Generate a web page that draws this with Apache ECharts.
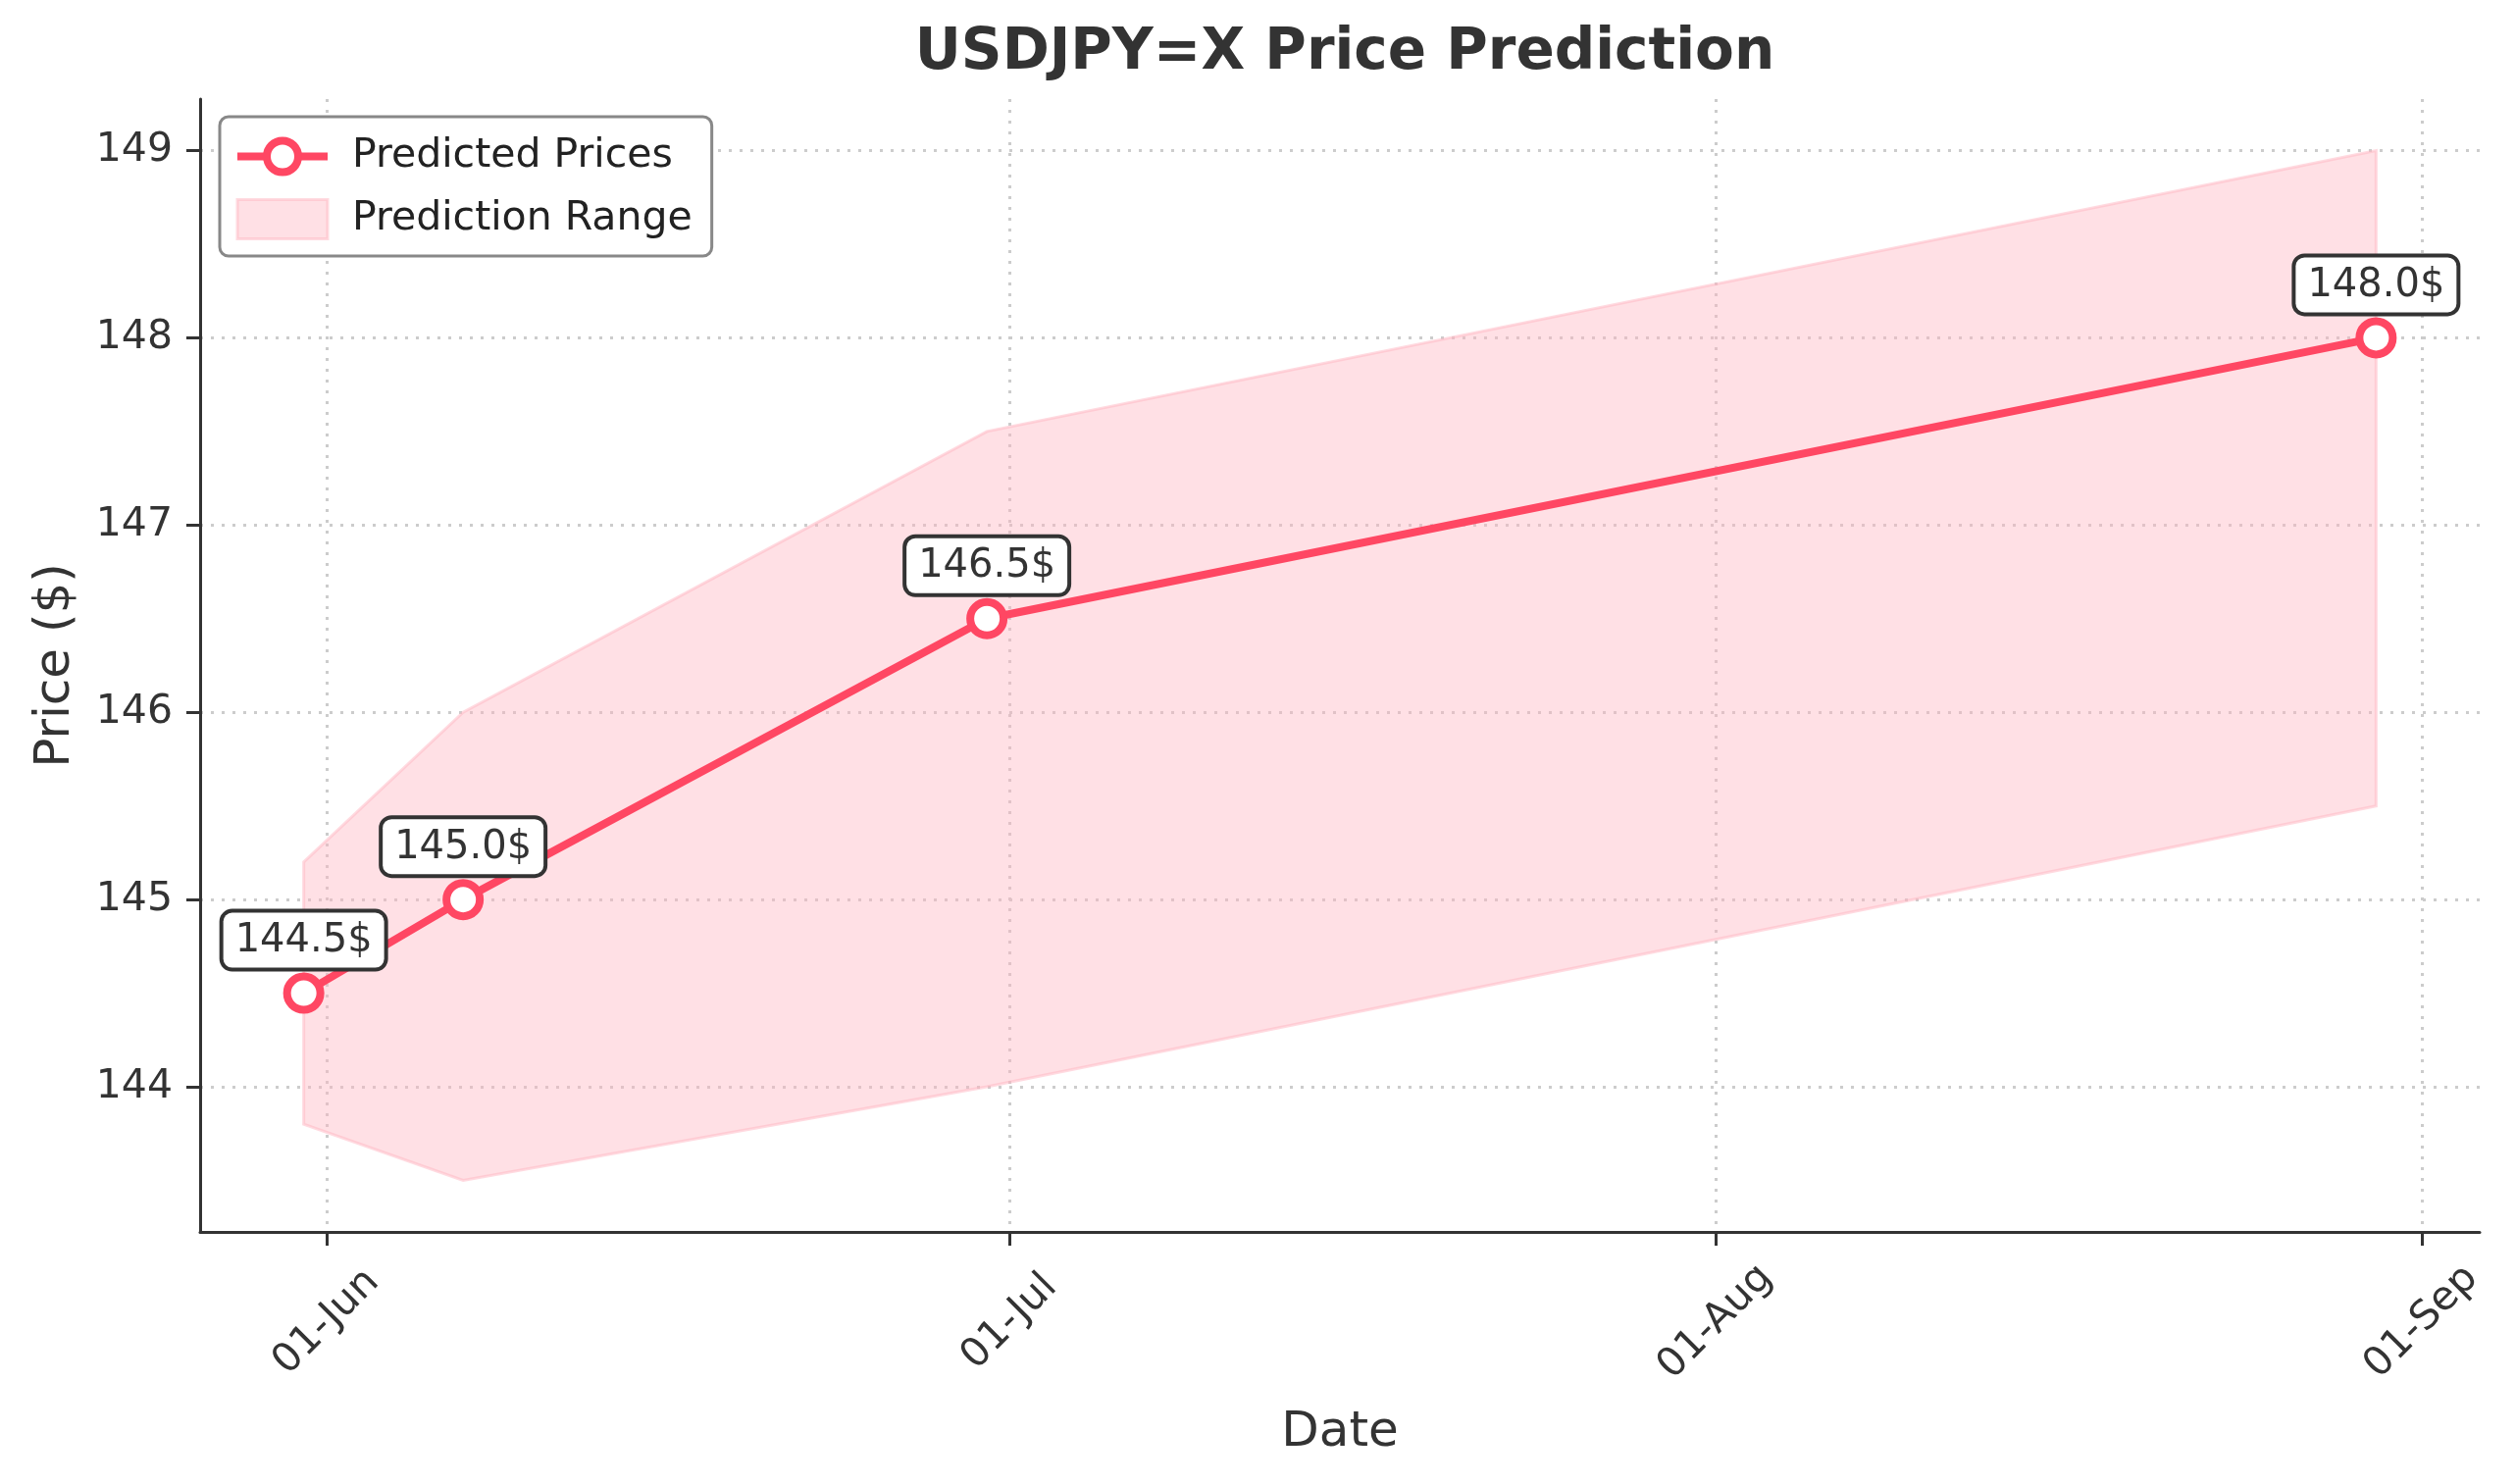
<!DOCTYPE html>
<html>
<head>
<meta charset="utf-8">
<title>USDJPY=X Price Prediction</title>
<script src="https://cdn.jsdelivr.net/npm/echarts@6/dist/echarts.min.js"></script>
<style>
  html, body { margin: 0; padding: 0; background: #fff; }
  #main { width: 2565px; height: 1513px; }
</style>
</head>
<body>
<div id="main"></div>
<script>
// prediction dates and values
const dates = ['2024-05-31', '2024-06-07', '2024-06-30', '2024-08-30'];
const predicted = [144.5, 145.0, 146.5, 148.0];
const lower = [143.8, 143.5, 144.0, 145.5];
const upper = [145.2, 146.0, 147.5, 149.0];
// x ticks (first of each month) and y ticks
const monthTicks = ['2024-06-01', '2024-07-01', '2024-08-01', '2024-09-01'];
const priceTicks = [144, 145, 146, 147, 148, 149];

const MONTHS = ['Jan', 'Feb', 'Mar', 'Apr', 'May', 'Jun', 'Jul', 'Aug', 'Sep', 'Oct', 'Nov', 'Dec'];
const toTs = s => {
    const [y, m, d] = s.split('-').map(Number);
    return Date.UTC(y, m - 1, d);
};
const fmtDay = v => {
    const d = new Date(v);
    return String(d.getUTCDate()).padStart(2, '0') + '-' + MONTHS[d.getUTCMonth()];
};

const xs = dates.map(toTs);
// matplotlib style 5% margins
const xSpan = xs[xs.length - 1] - xs[0];
const xMin = xs[0] - 0.05 * xSpan;
const xMax = xs[xs.length - 1] + 0.05 * xSpan;
const yLo = Math.min(...lower), yHi = Math.max(...upper);
const yMin = yLo - 0.05 * (yHi - yLo);
const yMax = yHi + 0.05 * (yHi - yLo);

const FONT = 'DejaVu Sans';
const TXT = '#333333';
const LINE = '#ff4763';
const FILL = 'rgba(255, 182, 193, 0.42)';
const FILL_EDGE = 'rgba(255, 182, 193, 0.5)';

const chart = echarts.init(document.getElementById('main'));

// band between lower and upper, drawn once as a polygon through the axes
const renderBand = (params, api) => {
    if (params.dataIndex !== 0) return;
    const pts = [];
    for (let i = 0; i < xs.length; i++) pts.push(api.coord([xs[i], upper[i]]));
    for (let i = xs.length - 1; i >= 0; i--) pts.push(api.coord([xs[i], lower[i]]));
    return {
        type: 'polygon',
        shape: {points: pts},
        style: {fill: FILL, stroke: FILL_EDGE, lineWidth: 3}
    };
};

const option = {
    backgroundColor: '#ffffff',
    animation: false,
    textStyle: {fontFamily: FONT, color: TXT},
    title: {
        text: 'USDJPY=X Price Prediction',
        left: 1366,
        textAlign: 'center',
        top: 21,
        textStyle: {fontFamily: FONT, fontSize: 58, fontWeight: 'bold', color: TXT}
    },
    legend: {
        orient: 'vertical',
        left: 224,
        top: 119,
        padding: [20, 20, 16, 14],
        itemGap: 22,
        itemWidth: 92,
        itemHeight: 40,
        backgroundColor: '#ffffff',
        borderColor: '#888888',
        borderWidth: 3,
        borderRadius: 9,
        textStyle: {fontFamily: FONT, fontSize: 41, color: '#222222', padding: [0, 0, 0, 20]},
        data: [
            {name: 'Predicted Prices', lineStyle: {color: LINE, width: 8}, itemStyle: {color: '#ffffff', borderColor: LINE, borderWidth: 8}},
            {name: 'Prediction Range', icon: 'rect', itemStyle: {color: FILL, borderColor: FILL_EDGE, borderWidth: 3}}
        ]
    },
    grid: {left: 204, right: 37, top: 101, bottom: 257, containLabel: false},
    xAxis: {
        type: 'value',
        min: xMin,
        max: xMax,
        name: 'Date',
        nameLocation: 'middle',
        nameGap: 180,
        nameTextStyle: {fontFamily: FONT, fontSize: 50, color: TXT},
        axisLine: {lineStyle: {color: TXT, width: 3}},
        axisTick: {show: true, length: 14, lineStyle: {color: TXT, width: 3}, customValues: monthTicks.map(toTs)},
        axisLabel: {
            customValues: monthTicks.map(toTs),
            formatter: v => fmtDay(v),
            rotate: 45,
            align: 'center',
            verticalAlign: 'middle',
            fontFamily: FONT,
            fontSize: 41,
            color: TXT,
            margin: 92
        },
        splitLine: {show: true, lineStyle: {color: '#cccccc', width: 3, type: [3, 8]}}
    },
    yAxis: {
        type: 'value',
        min: yMin,
        max: yMax,
        name: 'Price ($)',
        nameLocation: 'middle',
        nameGap: 122,
        nameTextStyle: {fontFamily: FONT, fontSize: 50, color: TXT},
        axisLine: {show: true, lineStyle: {color: TXT, width: 3}},
        axisTick: {show: true, length: 14, lineStyle: {color: TXT, width: 3}, customValues: priceTicks},
        axisLabel: {
            customValues: priceTicks,
            fontFamily: FONT,
            fontSize: 41,
            color: TXT,
            margin: 28
        },
        splitLine: {show: true, lineStyle: {color: '#cccccc', width: 3, type: [3, 8]}}
    },
    series: [
        {
            name: 'Prediction Range',
            type: 'custom',
            renderItem: renderBand,
            data: xs.map((x, i) => [x, lower[i], upper[i]]),
            encode: {x: 0, y: [1, 2]},
            itemStyle: {color: FILL},
            z: 1,
            silent: true
        },
        {
            name: 'Predicted Prices',
            type: 'line',
            data: xs.map((x, i) => [x, predicted[i]]),
            symbol: 'circle',
            symbolSize: 34,
            itemStyle: {color: '#ffffff', borderColor: LINE, borderWidth: 8},
            lineStyle: {color: LINE, width: 8},
            z: 5,
            label: {
                show: true,
                position: 'top',
                distance: 5,
                formatter: p => p.value[1].toFixed(1) + '$',
                fontFamily: FONT,
                fontSize: 40,
                color: TXT,
                backgroundColor: '#ffffff',
                borderColor: '#333333',
                borderWidth: 4,
                borderRadius: 9,
                padding: [9, 12, 7, 12]
            }
        }
    ]
};

chart.setOption(option);
</script>
</body>
</html>
